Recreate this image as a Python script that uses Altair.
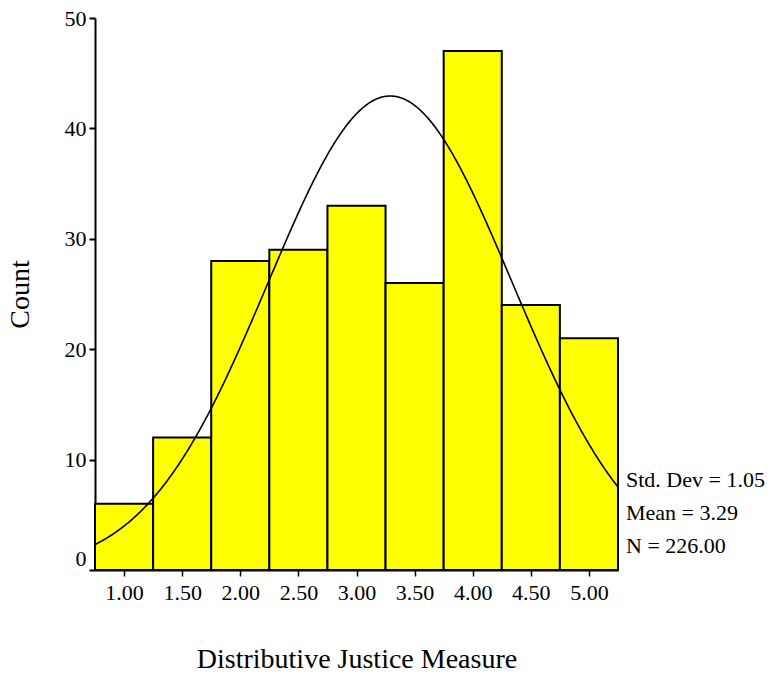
import altair as alt
import pandas as pd

# Histogram of the distributive justice scores (bin width 0.5)
bin_centers = [1.00, 1.50, 2.00, 2.50, 3.00, 3.50, 4.00, 4.50, 5.00]
counts = [6, 12, 28, 29, 33, 26, 47, 24, 21]
BIN_WIDTH = 0.5

# Summary statistics shown beside the plot
STD_DEV = 1.05
MEAN = 3.29
N = 226
stat_lines = ["Std. Dev = 1.05", "Mean = 3.29", "N = 226.00"]

x_ticks = bin_centers
y_ticks = [0, 10, 20, 30, 40, 50]

FONT = "Liberation Serif"
W, H = 523, 552

bars_df = pd.DataFrame({
    "lo": [c - BIN_WIDTH / 2 for c in bin_centers],
    "hi": [c + BIN_WIDTH / 2 for c in bin_centers],
    "count": counts,
})

x_scale = alt.Scale(domain=[0.75, 5.25], nice=False, zero=False)
y_scale = alt.Scale(domain=[0, 50], nice=False)

x_axis = alt.Axis(
    values=x_ticks, format=".2f", title="Distributive Justice Measure",
    labelFont=FONT, labelFontSize=22, labelColor="black", labelPadding=6,
    titleFont=FONT, titleFontSize=28, titleFontWeight="normal", titleColor="black",
    titlePadding=42, tickColor="black", tickSize=6, tickWidth=1.5,
    domainColor="black", domainWidth=2, grid=False,
)
y_axis = alt.Axis(
    values=y_ticks, title="Count",
    labelFont=FONT, labelFontSize=22, labelColor="black", labelPadding=3,
    # the zero label sits above its tick, clear of the x axis
    labelBaseline=alt.expr("datum.value == 0 ? 'bottom' : 'middle'"),
    titleFont=FONT, titleFontSize=28, titleFontWeight="normal", titleColor="black",
    titlePadding=30, tickColor="black", tickSize=6, tickWidth=2,
    domainColor="black", domainWidth=2, grid=False,
)

bars = alt.Chart(bars_df).mark_rect(
    fill="#ffff00", stroke="black", strokeWidth=2
).encode(
    x=alt.X("lo:Q", scale=x_scale, axis=x_axis),
    x2="hi:Q",
    y=alt.Y("count:Q", scale=y_scale, axis=y_axis),
    y2=alt.datum(0),
)

# Normal curve fitted with the stated mean and standard deviation
curve = alt.Chart(alt.sequence(0.75, 5.2501, 0.01, as_="x")).transform_calculate(
    density=f"{N} * {BIN_WIDTH} * exp(-0.5 * pow((datum.x - {MEAN}) / {STD_DEV}, 2)) / ({STD_DEV} * sqrt(2 * PI))"
).mark_line(color="black", strokeWidth=1.6).encode(
    x=alt.X("x:Q", scale=x_scale),
    y=alt.Y("density:Q", scale=y_scale),
)

# One text layer per statistics line, stacked to the right of the plot
stats = [
    alt.Chart(pd.DataFrame({"label": [line]})).mark_text(
        font=FONT, fontSize=22, color="black", align="left", baseline="alphabetic"
    ).encode(
        text="label:N",
        x=alt.value(W + 8),
        y=alt.value(469 + 33 * i),
    )
    for i, line in enumerate(stat_lines)
]

chart = alt.layer(bars, curve, *stats).properties(
    width=W, height=H,
    autosize=alt.AutoSizeParams(type="none"),
    padding={"left": 95, "top": 18, "right": 154, "bottom": 110},
).configure_view(stroke=None)

chart.save("out.html", embed_options={"renderer": "svg", "actions": False})
